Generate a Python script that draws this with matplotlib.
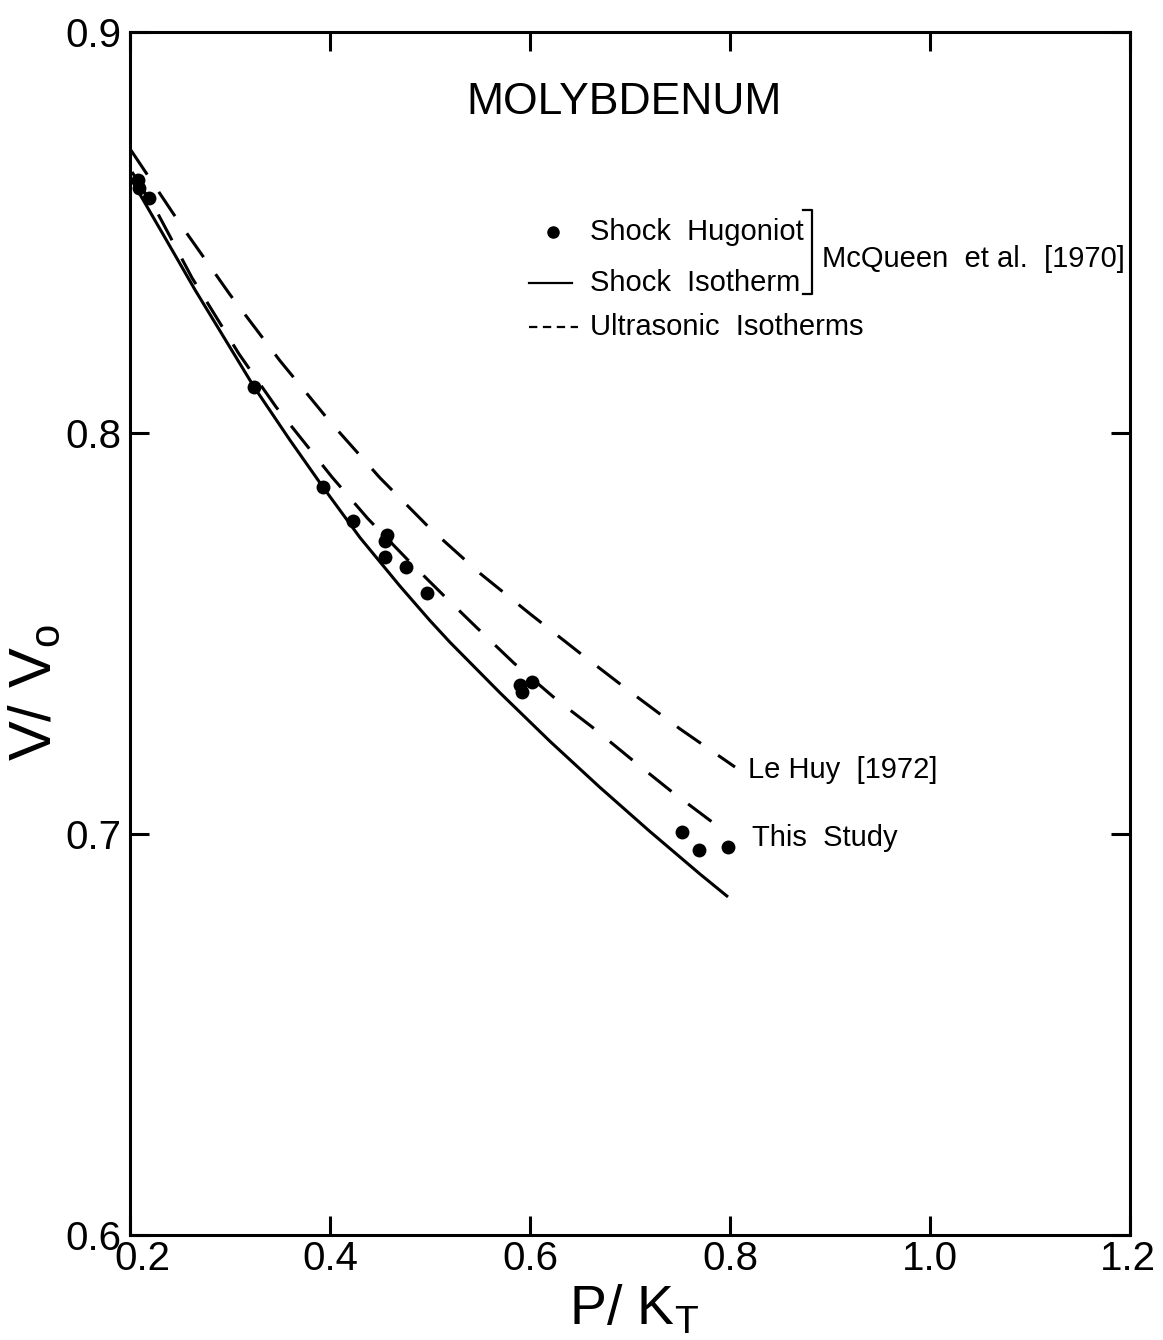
import matplotlib
matplotlib.use("Agg")
import matplotlib.pyplot as plt
import matplotlib.transforms as mtrans

plt.rcParams['font.family'] = ['Liberation Sans', 'DejaVu Sans']
plt.rcParams['mathtext.fontset'] = 'custom'
plt.rcParams['mathtext.rm'] = 'Liberation Sans'
plt.rcParams['lines.scale_dashes'] = False

# ---- data ----
hug_x = [0.208, 0.209, 0.219, 0.324, 0.393, 0.423, 0.457, 0.455, 0.455, 0.476,
         0.497, 0.590, 0.602, 0.592, 0.752, 0.769, 0.798]
hug_y = [0.8631, 0.8611, 0.8586, 0.8115, 0.7865, 0.7781, 0.7746, 0.7731, 0.7691,
         0.7666, 0.7601, 0.7372, 0.7379, 0.7354, 0.7005, 0.6960, 0.6968]

iso_x = [0.203, 0.235, 0.265, 0.295, 0.324, 0.36, 0.393, 0.43, 0.47, 0.50, 0.52,
         0.57, 0.62, 0.67, 0.72, 0.77, 0.798]
iso_y = [0.8625, 0.8487, 0.8357, 0.8234, 0.8115, 0.7982, 0.7865, 0.7739, 0.7618,
         0.7532, 0.7478, 0.7352, 0.7231, 0.7116, 0.7006, 0.6900, 0.6843]

study_x = [0.202, 0.227, 0.262, 0.309, 0.346, 0.402, 0.438, 0.478, 0.514, 0.547,
           0.584, 0.627, 0.662, 0.706, 0.742, 0.797]
study_y = [0.8651, 0.8551, 0.8387, 0.8197, 0.8065, 0.7890, 0.7786, 0.7683, 0.7594,
           0.7514, 0.7426, 0.7334, 0.7267, 0.7177, 0.7105, 0.7002]

lehuy_x = [0.201, 0.25, 0.30, 0.35, 0.40, 0.45, 0.50, 0.55, 0.60, 0.65, 0.70, 0.75, 0.805]
lehuy_y = [0.8705, 0.8522, 0.8345, 0.8180, 0.8028, 0.7888, 0.7762, 0.7650, 0.7549,
           0.7451, 0.7355, 0.7262, 0.7167]

x_ticks = [0.2, 0.4, 0.6, 0.8, 1.0, 1.2]
x_ticklabels = ['0.2', '0.4', '0.6', '0.8', '1.0', '1.2']
y_ticks = [0.6, 0.7, 0.8, 0.9]
y_ticklabels = ['0.6', '0.7', '0.8', '0.9']

title = 'MOLYBDENUM'
legend_labels = ['Shock  Hugoniot', 'Shock  Isotherm', 'Ultrasonic  Isotherms']
bracket_label = 'McQueen  et al.  [1970]'
curve_labels = ['Le Huy  [1972]', 'This  Study']

# ---- figure ----
fig = plt.figure(figsize=(11.63, 13.40), dpi=100)
ax = fig.add_axes([0.1118, 0.0784, 0.8598, 0.8977])
ax.set_xlim(0.2, 1.2)
ax.set_ylim(0.6, 0.9)

lw = 2.2
dash = (0, (21, 15))
ax.plot(iso_x, iso_y, color='black', lw=lw, solid_capstyle='butt',
        solid_joinstyle='round')
ax.plot(study_x, study_y, color='black', lw=lw, linestyle=dash)
ax.plot(lehuy_x, lehuy_y, color='black', lw=lw, linestyle=dash)
ax.plot(hug_x, hug_y, 'o', color='black', markersize=10, markeredgewidth=0)

for s in ax.spines.values():
    s.set_linewidth(2.2)

ax.set_xticks(x_ticks)
ax.set_xticklabels(x_ticklabels)
ax.set_yticks(y_ticks)
ax.set_yticklabels(y_ticklabels)
ax.tick_params(direction='in', length=14, width=2.2, top=True, right=True,
               labelsize=29)
ax.tick_params(axis='x', pad=4)
ax.tick_params(axis='y', pad=6)

xlabs = ax.get_xticklabels()
xlabs[0].set_transform(xlabs[0].get_transform() +
                       mtrans.ScaledTranslation(12 / 100, 0, fig.dpi_scale_trans))
xlabs[-1].set_transform(xlabs[-1].get_transform() +
                        mtrans.ScaledTranslation(-2 / 100, 0, fig.dpi_scale_trans))

fig.text(0.545, 0.012, r'P/ K$_\mathrm{T}$', fontsize=40, ha='center', va='baseline')
fig.text(0.030, 0.483, r'V/ V$_\mathrm{o}$', fontsize=43, ha='center', va='center',
         rotation=90)

T = ax.transAxes
def ax_xy(px, py):
    return ((px - 130) / 1000.0, (1235 - py) / 1203.0)

tx_, ty_ = ax_xy(624, 102)
ax.text(tx_, ty_, title, fontsize=32, ha='center', va='center', transform=T)

# legend (hand-built)
fs = 21
x0, y0 = ax_xy(553, 232)
ax.plot([x0], [y0], 'o', color='black', markersize=8, transform=T, clip_on=False)
xa, ya = ax_xy(529, 283)
xb, _ = ax_xy(572, 283)
ax.plot([xa, xb], [ya, ya], color='black', lw=1.6, transform=T)
xa, yd = ax_xy(529, 327)
xb, _ = ax_xy(578, 327)
ax.plot([xa, xb], [yd, yd], color='black', lw=1.6, linestyle=(0, (6, 4)), transform=T)
tx, _ = ax_xy(590, 0)
ax.text(tx, y0, legend_labels[0], fontsize=fs, ha='left', va='center', transform=T)
ax.text(tx, ya, legend_labels[1], fontsize=fs, ha='left', va='center', transform=T)
ax.text(tx, yd, legend_labels[2], fontsize=fs, ha='left', va='center', transform=T)

bx, btop = ax_xy(812, 210)
_, bbot = ax_xy(812, 294)
bl, _ = ax_xy(803, 0)
ax.plot([bl, bx, bx, bl], [btop, btop, bbot, bbot], color='black', lw=1.6, transform=T)
mx, my = ax_xy(822, 259)
ax.text(mx, my, bracket_label, fontsize=fs, ha='left', va='center', transform=T)

lx, ly = ax_xy(748, 770)
ax.text(lx, ly, curve_labels[0], fontsize=fs, ha='left', va='center', transform=T)
sx, sy = ax_xy(752, 838)
ax.text(sx, sy, curve_labels[1], fontsize=fs, ha='left', va='center', transform=T)

fig.savefig('out.png', dpi=100)
